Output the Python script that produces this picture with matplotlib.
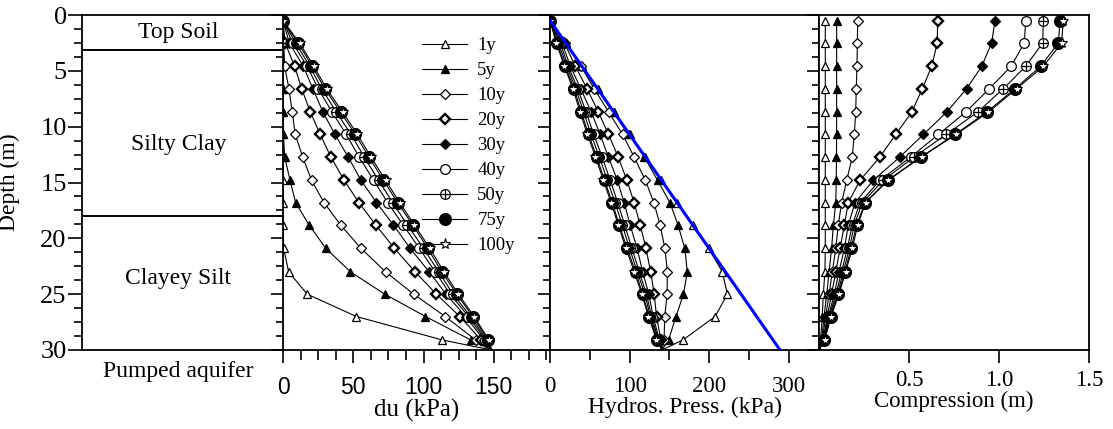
import matplotlib
matplotlib.use('Agg')
import matplotlib.pyplot as plt
from matplotlib.ticker import MultipleLocator, FixedLocator, NullFormatter
from matplotlib.legend_handler import HandlerTuple

# depths of the computed nodes (m); last one is the aquifer top, drawn without marker
depth = [0.5, 2.5, 4.6, 6.6, 8.7, 10.7, 12.7, 14.8, 16.8, 18.8, 20.9, 23.0, 25.0, 27.0, 29.1, 30.0]
years = ['1y', '5y', '10y', '20y', '30y', '40y', '50y', '75y', '100y']

# excess pore pressure drop du (kPa)
du = {
    '1y':   [0, 0, 0, 0, 0, 0, 0, 0, 0, 0, 0.5, 4, 17.2, 52.2, 113.3, 148.4],
    '5y':   [0, 0, 0, 0, 0, 0.3, 1.2, 5, 9, 18.5, 30.5, 48, 72.4, 101.4, 133.6, 148.4],
    '10y':  [0, 0.5, 1.2, 4.2, 6.6, 8.7, 14, 20.3, 29.2, 41, 55.5, 73, 93, 115.5, 137, 148.4],
    '20y':  [0, 1.5, 8.3, 13.3, 19.5, 26.5, 34, 43.5, 54, 66, 79.3, 94, 109.2, 125.8, 141, 148.4],
    '30y':  [0, 4.5, 14.5, 21.2, 28.5, 37, 46.3, 55.5, 66.5, 78.6, 90.5, 104, 116, 130, 143, 148.4],
    '40y':  [0, 6.8, 17.2, 25, 35, 45, 54.1, 64.5, 74.5, 85.5, 97, 108.3, 119, 132, 144, 148.4],
    '50y':  [0, 9, 19, 27.5, 38, 48.5, 57.7, 68, 78, 88.5, 100, 110.8, 121, 133.5, 145, 148.4],
    '75y':  [0, 10.7, 20.8, 29.7, 41, 51.5, 61, 71.5, 81.5, 92.3, 103, 113, 123.7, 135, 146, 148.4],
    '100y': [0, 11.8, 22, 31, 42.5, 53, 62.5, 73, 83, 93.5, 104.5, 114.5, 124.8, 136, 146.5, 148.4],
}

# hydrostatic pressure (kPa)
hp = {
    '1y':   [0, 19.6, 40.2, 59.8, 80.4, 100.0, 119.6, 140.1, 159.7, 179.3, 199.4, 216.5, 222.9, 207.5, 167.0, 140.7],
    '5y':   [0, 19.6, 40.2, 59.8, 80.4, 99.7, 118.4, 135.1, 150.7, 160.8, 169.4, 172.5, 167.7, 158.3, 149.0, 140.7],
    '10y':  [0, 19.1, 39.0, 55.6, 73.8, 91.3, 105.6, 119.8, 130.5, 138.3, 144.4, 147.5, 147.1, 144.2, 143.3, 140.7],
    '20y':  [0, 18.1, 31.9, 46.5, 60.9, 73.5, 85.6, 96.6, 105.7, 113.3, 120.6, 126.5, 130.9, 133.9, 139.3, 140.7],
    '30y':  [0, 15.1, 25.7, 38.6, 51.9, 63.0, 73.3, 84.6, 93.2, 100.7, 109.4, 116.5, 124.1, 129.7, 137.3, 140.7],
    '40y':  [0, 12.8, 23.0, 34.8, 45.4, 55.0, 65.5, 75.6, 85.2, 93.8, 102.9, 112.2, 121.1, 127.7, 136.3, 140.7],
    '50y':  [0, 10.6, 21.2, 32.3, 42.4, 51.5, 61.9, 72.1, 81.7, 90.8, 99.9, 109.7, 119.1, 126.2, 135.3, 140.7],
    '75y':  [0, 8.9, 19.4, 30.1, 39.4, 48.5, 58.6, 68.6, 78.2, 87.0, 96.9, 107.5, 116.4, 124.7, 134.3, 140.7],
    '100y': [0, 7.8, 18.2, 28.8, 37.9, 47.0, 57.1, 67.1, 76.7, 85.8, 95.4, 106.0, 115.3, 123.7, 133.8, 140.7],
}
static_depth = [0.5, 30.0]
static_p = [0, 289]

# compression of the column below each depth (m)
comp = {
    '1y':   [0.035, 0.035, 0.035, 0.035, 0.035, 0.035, 0.035, 0.035, 0.035, 0.035, 0.035, 0.033, 0.024, 0.018, 0.009, 0],
    '5y':   [0.098, 0.098, 0.098, 0.098, 0.098, 0.098, 0.097, 0.096, 0.093, 0.08, 0.07, 0.056, 0.043, 0.028, 0.015, 0],
    '10y':  [0.215, 0.213, 0.211, 0.207, 0.204, 0.196, 0.185, 0.154, 0.126, 0.107, 0.093, 0.074, 0.056, 0.037, 0.018, 0],
    '20y':  [0.659, 0.657, 0.626, 0.574, 0.515, 0.426, 0.339, 0.228, 0.163, 0.141, 0.117, 0.093, 0.07, 0.046, 0.022, 0],
    '30y':  [0.978, 0.959, 0.904, 0.82, 0.709, 0.58, 0.45, 0.302, 0.2, 0.163, 0.141, 0.111, 0.085, 0.052, 0.025, 0],
    '40y':  [1.148, 1.141, 1.067, 0.946, 0.815, 0.663, 0.511, 0.339, 0.228, 0.185, 0.157, 0.126, 0.094, 0.057, 0.027, 0],
    '50y':  [1.246, 1.243, 1.148, 1.024, 0.881, 0.706, 0.53, 0.357, 0.241, 0.196, 0.169, 0.135, 0.102, 0.061, 0.029, 0],
    '75y':  [1.339, 1.33, 1.231, 1.089, 0.931, 0.756, 0.567, 0.381, 0.256, 0.209, 0.178, 0.144, 0.107, 0.065, 0.03, 0],
    '100y': [1.357, 1.348, 1.246, 1.098, 0.941, 0.761, 0.57, 0.385, 0.259, 0.215, 0.185, 0.148, 0.111, 0.067, 0.031, 0],
}

layer_tops = [3.13, 18.0]
layer_names = ['Top Soil', 'Silty Clay', 'Clayey Silt', 'Pumped aquifer']
layer_label_depth = [1.6, 11.6, 23.6, 31.9]

styles = {
    '1y':   dict(marker='^', ms=6, mfc='white', mew=0.9),
    '5y':   dict(marker='^', ms=5.5, mfc='black', mew=0.9),
    '10y':  dict(marker='D', ms=5, mfc='white', mew=0.9),
    '20y':  dict(marker='D', ms=5, mfc='white', mew=1.7),
    '30y':  dict(marker='D', ms=5.5, mfc='black', mew=0.9),
    '40y':  dict(marker='o', ms=7, mfc='white', mew=0.9),
    '50y':  dict(marker='o', ms=7, mfc='white', mew=0.9),
    '75y':  dict(marker='o', ms=8.5, mfc='black', mew=0.9),
    '100y': dict(marker='*', ms=8, mfc='white', mew=0.8),
}

serif = 'Liberation Serif'
sans = 'Liberation Sans'
plt.rcParams['font.family'] = serif
plt.rcParams['axes.linewidth'] = 1.3

fig = plt.figure(figsize=(11.13, 4.29), dpi=100)
W, H = 1113.0, 429.0
bot = 1 - 350 / H
hgt = 335 / H
ax0 = fig.add_axes([82 / W, bot, 201 / W, hgt])
ax1 = fig.add_axes([283 / W, bot, 267 / W, hgt])
ax2 = fig.add_axes([550 / W, bot, 269 / W, hgt])
ax3 = fig.add_axes([819 / W, bot, 270 / W, hgt])

nmark = len(depth) - 1

def draw(ax, data):
    handles = {}
    for y in years:
        st = styles[y]
        ln, = ax.plot(data[y], depth, color='black', lw=0.8, mec='black',
                      markevery=list(range(nmark)), label=y, **st)
        handles[y] = ln
        if y == '50y':
            ax.plot(data[y], depth, ls='none', marker='+', ms=7, mec='black', mew=0.9,
                    markevery=list(range(nmark)))
    return handles

# soil column
ax0.set_xlim(0, 1)
ax0.set_ylim(30, 0)
ax0.spines['right'].set_visible(False)
ax0.set_xticks([])
for d in layer_tops:
    ax0.axhline(d, color='black', lw=1.4)
for name, d in zip(layer_names, layer_label_depth):
    ax0.text(0.48, d, name, ha='center', va='center', fontsize=17, clip_on=False)
ax0.yaxis.set_major_locator(MultipleLocator(5))
ax0.yaxis.set_minor_locator(MultipleLocator(1.25))
ax0.tick_params(axis='y', which='major', direction='out', length=10, width=1.2,
                labelsize=19, pad=1)
ax0.tick_params(axis='y', which='minor', direction='out', length=5.5, width=1.2)
ax0.set_ylabel('Depth (m)', fontsize=17)
ax0.yaxis.set_label_coords(-62 / 201, 0.5)

h = draw(ax1, du)
draw(ax2, hp)
ax2.plot(static_p, static_depth, color='blue', lw=2.2, zorder=4)
draw(ax3, comp)

for ax in (ax1, ax2, ax3):
    ax.set_ylim(30, 0)
    ax.yaxis.set_major_locator(MultipleLocator(5))
    ax.yaxis.set_minor_locator(MultipleLocator(1.25))
    ax.yaxis.set_major_formatter(NullFormatter())
    ax.tick_params(axis='y', which='major', direction='out', length=9, width=1.2)
    ax.tick_params(axis='y', which='minor', direction='out', length=5, width=1.2)
    ax.tick_params(axis='x', which='major', direction='out', length=9.5, width=1.2, pad=9)
    ax.tick_params(axis='x', which='minor', direction='out', length=7.5, width=1.2)

ax1.set_xlim(0, 190)
ax1.xaxis.set_major_locator(FixedLocator([0, 50, 100, 150]))
ax1.xaxis.set_minor_locator(MultipleLocator(12.5))
ax1.tick_params(axis='x', labelsize=16.5, labelfontfamily=sans)
ax1.set_xlabel('du (kPa)', fontsize=18, fontfamily=serif, labelpad=0)

ax2.set_xlim(0, 338)
ax2.xaxis.set_major_locator(FixedLocator([0, 100, 200, 300]))
ax2.xaxis.set_minor_locator(FixedLocator([50, 150, 250]))
ax2.tick_params(axis='x', labelsize=16.5)
ax2.set_xlabel('Hydros. Press. (kPa)', fontsize=17, labelpad=0)

ax3.set_xlim(0, 1.5)
ax3.xaxis.set_major_locator(FixedLocator([0.5, 1.0, 1.5]))
ax3.xaxis.set_major_formatter(plt.FuncFormatter(lambda v, p: '%.1f' % v))
ax3.tick_params(axis='x', labelsize=16.5, pad=5)
ax3.set_xlabel('Compression (m)', fontsize=16.5, labelpad=0)

leg_handles = []
for y in years:
    if y == '50y':
        plus, = ax1.plot([], [], ls='none', marker='+', ms=7, mec='black', mew=0.9)
        leg_handles.append((h[y], plus))
    else:
        leg_handles.append(h[y])
ax1.legend(leg_handles, years, loc='upper left', frameon=False,
           bbox_to_anchor=(422 / W, 1 - 37 / H), bbox_transform=fig.transFigure,
           fontsize=13.5, handlelength=2.4, handletextpad=0.55, labelspacing=0.42,
           borderpad=0, borderaxespad=0,
           handler_map={tuple: HandlerTuple(ndivide=1, pad=0)})

fig.savefig('out.png', dpi=100)
